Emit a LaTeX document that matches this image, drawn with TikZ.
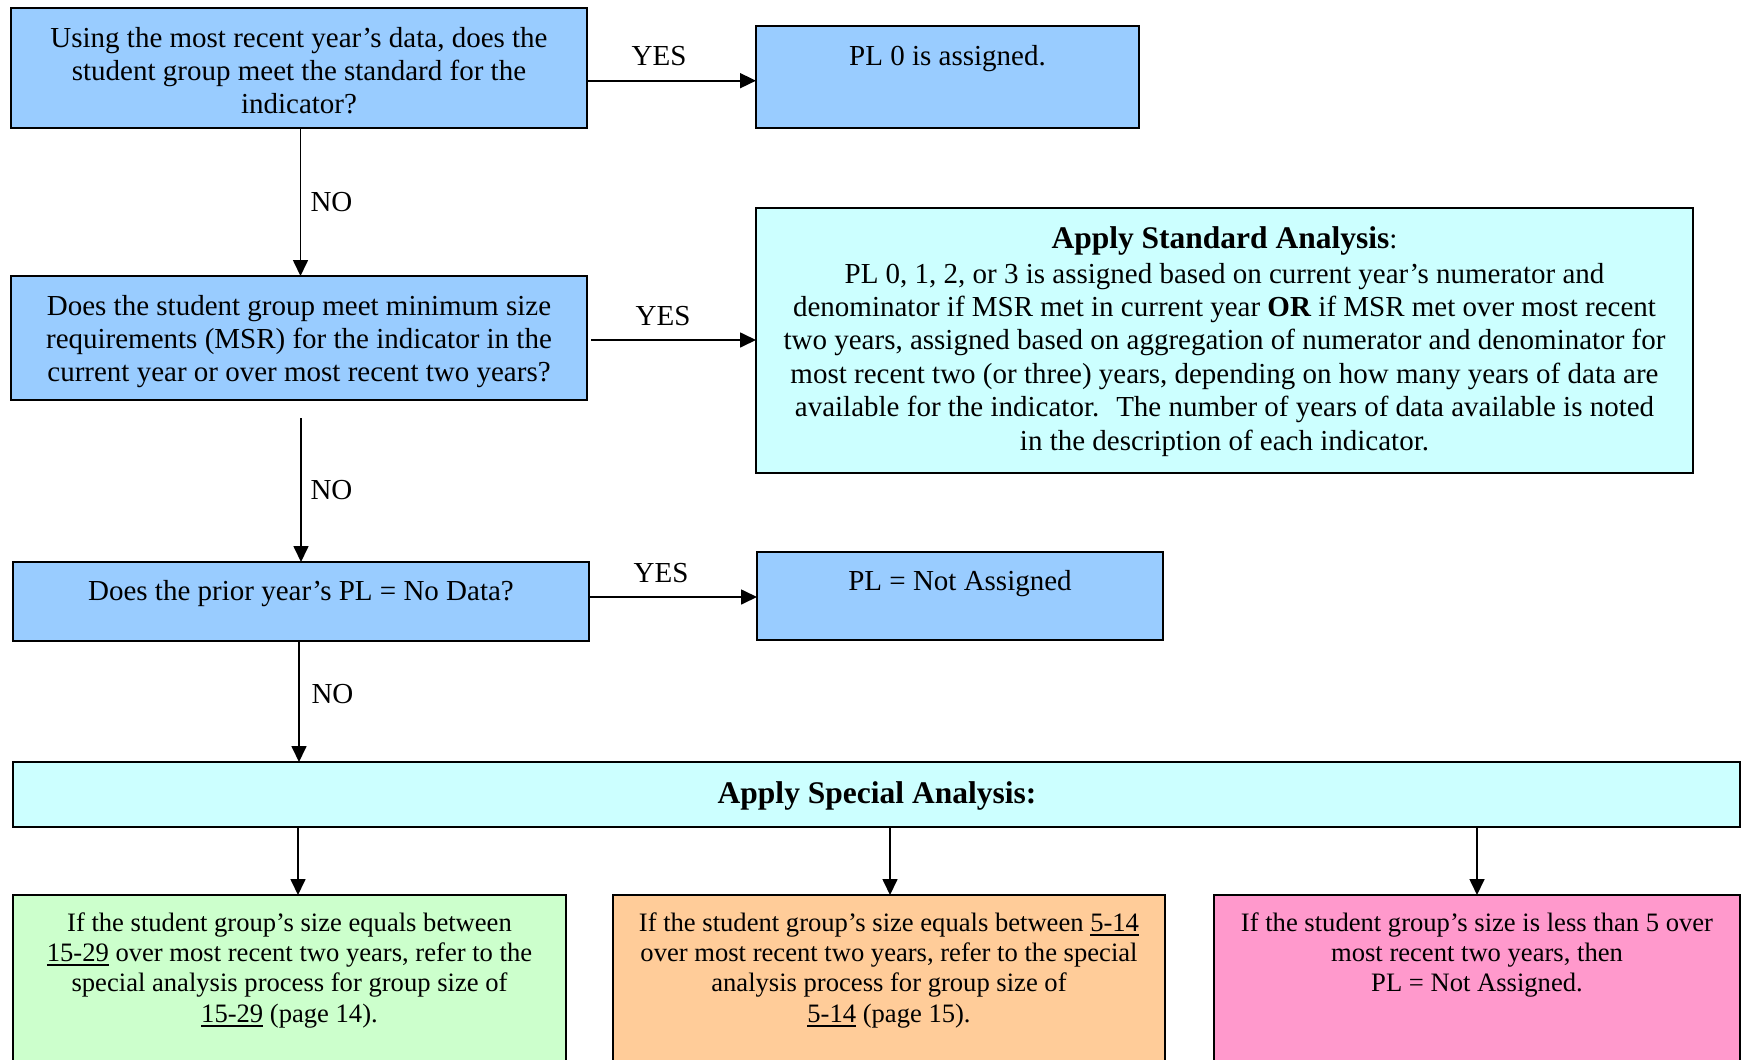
\documentclass[tikz,border=0pt]{standalone}
\usepackage{fontspec}
\setmainfont{Liberation Serif}
\usetikzlibrary{arrows.meta}
\definecolor{qblue}{HTML}{99CCFF}
\definecolor{qcyan}{HTML}{CCFFFF}
\definecolor{qgreen}{HTML}{CCFFCC}
\definecolor{qorange}{HTML}{FFCC99}
\definecolor{qpink}{HTML}{FF99CC}
\newcommand\myul[1]{\leavevmode\setbox0\hbox{#1}\rlap{\rule[-4.5pt]{\wd0}{2pt}}\box0\relax}
\begin{document}
\begin{tikzpicture}[x=1pt,y=-1pt,
  box/.style={draw=black, line width=2pt, inner sep=0pt, outer sep=0pt, anchor=north west},
  big/.style={font=\fontsize{29}{33.4}\selectfont},
  small/.style={font=\fontsize{26.6}{30.4}\selectfont},
  txt/.style={inner sep=0pt, anchor=base},
  arr/.style={line width=1.7pt, -{Triangle[length=16pt,width=15pt]}},
]
\useasboundingbox (0,0) rectangle (1741,1060);
\clip (0,0) rectangle (1741,1060);
\fill[white] (0,0) rectangle (1741,1060);

% boxes
\node[box, fill=qblue, minimum width=576pt, minimum height=120pt] (b1) at (11,8) {};
\node[box, fill=qblue, minimum width=383pt, minimum height=102pt] (pl0) at (756,26) {};
\node[box, fill=qcyan, minimum width=937pt, minimum height=265pt] (std) at (756,208) {};
\node[box, fill=qblue, minimum width=576pt, minimum height=124pt] (b2) at (11,276) {};
\node[box, fill=qblue, minimum width=576pt, minimum height=79pt] (b3) at (13,562) {};
\node[box, fill=qblue, minimum width=406pt, minimum height=88pt] (na) at (757,552) {};
\node[box, fill=qcyan, minimum width=1727pt, minimum height=65pt] (sp) at (13,762) {};
\node[box, fill=qgreen, minimum width=553pt, minimum height=190pt] (gr) at (13,895) {};
\node[box, fill=qorange, minimum width=552pt, minimum height=190pt] (or) at (613,895) {};
\node[box, fill=qpink, minimum width=526pt, minimum height=190pt] (pk) at (1214,895) {};

% texts
\node[txt, big] (t1) at (299,47) {\parbox[t]{570pt}{\centering Using the most recent year's data, does the\\ student group meet the standard for the\\ indicator?}};
\node[txt, big] (tpl0) at (947.5,65) {PL 0 is assigned.};
\node[txt, big] (tstd) at (1224.5,248) {\parbox[t]{930pt}{\centering {\fontsize{31.5}{33.4}\selectfont\bfseries Apply Standard Analysis}:\\[1.6pt]
PL 0, 1, 2, or 3 is assigned based on current year's numerator and\\
denominator if MSR met in current year \textbf{OR} if MSR met over most recent\\
two years, assigned based on aggregation of numerator and denominator for\\
most recent two (or three) years, depending on how many years of data are\\
available for the indicator.~ The number of years of data available is noted\\
in the description of each indicator.}};
\node[txt, big] (t2) at (299,315) {\parbox[t]{570pt}{\centering Does the student group meet minimum size\\ requirements (MSR) for the indicator in the\\ current year or over most recent two years?}};
\node[txt, big] (t3) at (301,600) {Does the prior year's PL = No Data?};
\node[txt, big] (tna) at (960,590) {PL = Not Assigned};
\node[txt, font=\fontsize{31.5}{33.4}\selectfont\bfseries] (tsp) at (877,803) {Apply Special Analysis:};
\node[txt, small] (tgr) at (289.5,931) {\parbox[t]{550pt}{\centering If the student group's size equals between\\ \myul{15-29} over most recent two years, refer to the\\ special analysis process for group size of\\ \myul{15-29} (page 14).}};
\node[txt, small] (tor) at (889,931) {\parbox[t]{550pt}{\centering If the student group's size equals between \myul{5-14}\\ over most recent two years, refer to the special\\ analysis process for group size of\\ \myul{5-14} (page 15).}};
\node[txt, small] (tpk) at (1477,931) {\parbox[t]{520pt}{\centering If the student group's size is less than 5 over\\ most recent two years, then\\ PL = Not Assigned.}};

% edge labels
\node[txt, big] (y1) at (659,65) {YES};
\node[txt, big] (y2) at (663,325) {YES};
\node[txt, big] (y3) at (661,582) {YES};
\node[txt, big] (n1) at (331.5,211) {NO};
\node[txt, big] (n2) at (331.5,499) {NO};
\node[txt, big] (n3) at (332.5,703) {NO};

% helper coordinates
\coordinate (h1) at (0,80.7);
\coordinate (h2) at (0,340);
\coordinate (h3) at (0,597);
\coordinate (v1) at (300.5,0);
\coordinate (v2) at (301,0);
\coordinate (v3) at (299,0);
\coordinate (v4) at (298,0);
\coordinate (v5) at (890,0);
\coordinate (v6) at (1477,0);

% connectors
\draw[arr] (b1.east |- h1) -- (pl0.west |- h1);
\draw[arr] (v1 |- b1.south) -- (v1 |- b2.north);
\draw[arr, shorten <=4pt] (b2.east |- h2) -- (std.west |- h2);
\draw[arr, shorten <=18pt] (v2 |- b2.south) -- (v2 |- b3.north);
\draw[arr] (b3.east |- h3) -- (na.west |- h3);
\draw[arr] (v3 |- b3.south) -- (v3 |- sp.north);
\draw[arr] (v4 |- sp.south) -- (v4 |- gr.north);
\draw[arr] (v5 |- sp.south) -- (v5 |- or.north);
\draw[arr] (v6 |- sp.south) -- (v6 |- pk.north);
\end{tikzpicture}
\end{document}
